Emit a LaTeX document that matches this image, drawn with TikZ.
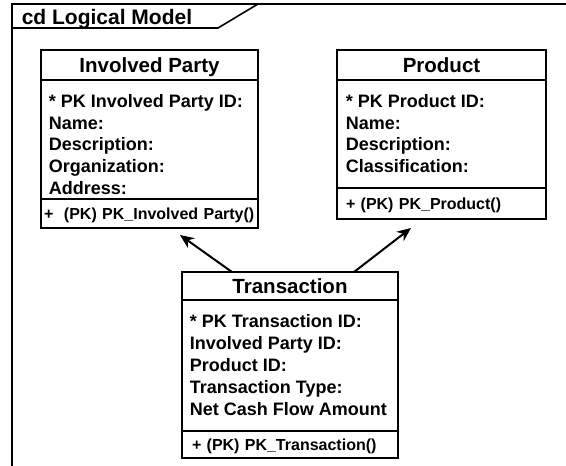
\documentclass[tikz,border=0pt]{standalone}
\usepackage{fontspec}
\setmainfont{Liberation Sans}
\usetikzlibrary{positioning,calc,arrows.meta}

\begin{document}
\begin{tikzpicture}[x=1pt, y=-1pt, line width=1.6pt,
  box/.style = {draw, rectangle, inner sep=0pt, outer sep=0pt},
  head/.style = {box, font=\fontsize{20.5}{24}\selectfont\bfseries, text height=14.7pt, text depth=0pt},
  fields/.style = {anchor=north west, align=left, inner sep=0pt, font=\fontsize{18}{21.8}\selectfont\bfseries},
  ops/.style = {box, align=left, font=\fontsize{16}{19}\selectfont\bfseries, text height=11.5pt, text depth=0pt},
  assoc/.style = {-{Stealth[length=14pt,width=12pt]}, line width=2pt}]
  \useasboundingbox (0,0) rectangle (566,466);

  % frame
  \draw (12,466) -- (12,4) -- (566,4);
  \draw (12,28) -- (218,28) -- (258,4);
  \node[anchor=west, inner sep=0pt, text height=15pt, text depth=0pt, font=\fontsize{21}{25}\selectfont\bfseries] (title) at (21,16.5) {cd Logical Model};

  % Involved Party
  \node[head, minimum width=217pt, minimum height=30pt] (ipname) at (149.5,65) {Involved Party};
  \node[box, minimum width=217pt, minimum height=119pt] (ipattr) [below=0pt of ipname] {};
  \node[ops, text width=211pt, inner xsep=3pt, minimum height=29pt] (ipops) [below=0pt of ipattr] {\mbox{+\ \ (PK) PK\_Involved Party()}};
  \node[fields] (ipfields) at ([xshift=7pt,yshift=-13.5pt]ipattr.north west) {* PK Involved Party ID:\\Name:\\Description:\\Organization:\\Address:};

  % Product
  \node[head, minimum width=209pt, minimum height=30pt] (prname) at (441.5,65) {Product};
  \node[box, minimum width=209pt, minimum height=108pt] (prattr) [below=0pt of prname] {};
  \node[ops, text width=191pt, inner xsep=9pt, minimum height=31pt] (props) [below=0pt of prattr] {+ (PK) PK\_Product()};
  \node[fields] (prfields) at ([xshift=8pt,yshift=-13.5pt]prattr.north west) {* PK Product ID:\\Name:\\Description:\\Classification:};

  % Transaction
  \node[head, minimum width=216pt, minimum height=28pt] (trname) at (290,286) {Transaction};
  \node[box, minimum width=216pt, minimum height=131pt] (trattr) [below=0pt of trname] {};
  \node[ops, text width=196pt, inner xsep=10pt, minimum height=27pt] (trops) [below=0pt of trattr] {+ (PK) PK\_Transaction()};
  \node[fields] (trfields) at ([xshift=7pt,yshift=-14pt]trattr.north west) {* PK Transaction ID:\\Involved Party ID:\\Product ID:\\Transaction Type:\\Net Cash Flow Amount};

  \draw[assoc] ([xshift=50pt]trname.north west) -- ([xshift=139pt,yshift=-7pt]ipops.south west);
  \draw[assoc] ([xshift=172pt]trname.north west) -- ([xshift=74pt,yshift=-9pt]props.south west);
\end{tikzpicture}
\end{document}
